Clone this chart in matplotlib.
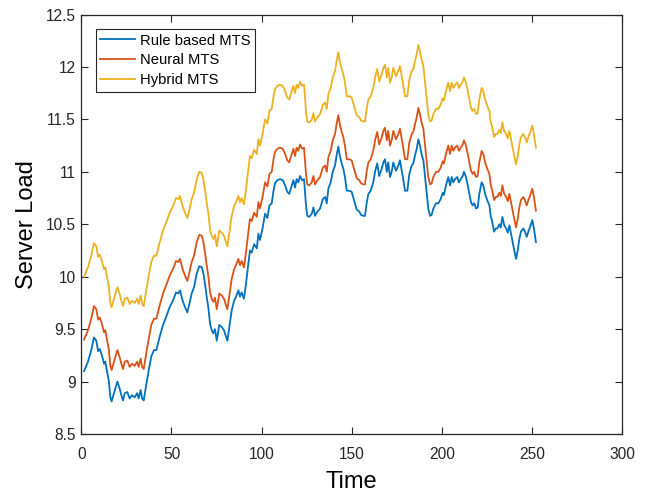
import matplotlib
matplotlib.use("Agg")
import matplotlib.pyplot as plt

plt.rcParams['font.family'] = ['Liberation Sans', 'DejaVu Sans']

time = [
    1.5, 3.7, 5.5, 7.0, 8.3, 9.3, 10.2, 11.1, 12.6, 13.3,
    14.1, 15.2, 16.1, 16.8, 18.1, 20.0, 21.3, 22.2, 23.1, 24.1,
    25.5, 26.8, 28.1, 29.6, 30.9, 31.8, 32.9, 33.7, 34.6, 36.1,
    37.4, 38.8, 40.3, 41.6, 43.5, 45.3, 47.1, 49.0, 51.0, 52.5,
    53.8, 54.7, 56.2, 57.5, 58.8, 59.9, 61.2, 62.5, 64.0, 65.4,
    66.8, 67.7, 68.6, 69.5, 70.4, 71.4, 72.3, 73.2, 74.1, 75.1,
    76.5, 77.9, 79.1, 80.2, 81.0, 82.1, 83.4, 84.7, 85.8, 87.1,
    88.0, 88.9, 90.2, 91.3, 92.6, 93.5, 94.5, 95.8, 97.3, 98.2,
    99.1, 100.6, 101.9, 103.2, 104.3, 105.6, 106.5, 107.4, 108.7, 110.2,
    111.7, 113.0, 114.2, 115.3, 116.7, 117.6, 118.5, 119.4, 120.3, 121.3,
    122.4, 123.5, 124.6, 125.3, 126.4, 127.8, 128.7, 129.6, 130.9, 132.4,
    133.9, 135.2, 136.1, 137.0, 138.3, 139.4, 140.7, 141.6, 142.5, 143.5,
    144.4, 145.3, 146.2, 147.2, 148.6, 149.9, 151.2, 152.7, 154.2, 155.1,
    156.4, 157.3, 158.3, 159.2, 160.5, 161.9, 163.0, 164.1, 165.2, 166.6,
    167.5, 168.4, 169.4, 170.2, 171.2, 172.1, 173.0, 174.5, 175.8, 176.7,
    177.7, 178.6, 179.5, 180.8, 181.9, 183.2, 184.1, 185.1, 186.0, 186.9,
    187.8, 188.8, 189.7, 190.6, 191.5, 192.4, 193.4, 194.3, 195.2, 196.7,
    198.0, 199.3, 200.4, 201.1, 202.2, 203.5, 204.5, 205.4, 206.3, 207.2,
    208.5, 209.4, 210.4, 211.5, 212.2, 213.3, 214.3, 215.2, 216.1, 217.0,
    217.9, 218.9, 219.8, 220.7, 222.0, 222.9, 223.9, 225.1, 226.3, 227.0,
    227.9, 228.9, 229.8, 230.7, 231.8, 232.6, 233.5, 234.5, 235.6, 236.5,
    237.4, 238.3, 239.2, 240.1, 241.1, 242.0, 242.9, 243.8, 245.1, 246.0,
    247.0, 247.9, 248.8, 250.1, 251.0, 252.1,
]

rule_based = [
    9.10, 9.19, 9.30, 9.42, 9.39, 9.29, 9.31, 9.27, 9.17, 9.19,
    9.11, 9.01, 8.85, 8.81, 8.89, 9.00, 8.93, 8.87, 8.82, 8.89,
    8.90, 8.84, 8.87, 8.85, 8.89, 8.84, 8.92, 8.84, 8.82, 8.98,
    9.11, 9.24, 9.30, 9.30, 9.43, 9.54, 9.62, 9.71, 9.78, 9.85,
    9.84, 9.87, 9.77, 9.71, 9.66, 9.74, 9.84, 9.90, 10.03, 10.10,
    10.09, 10.03, 9.93, 9.81, 9.71, 9.55, 9.49, 9.46, 9.50, 9.39,
    9.54, 9.52, 9.49, 9.43, 9.39, 9.52, 9.68, 9.77, 9.81, 9.87,
    9.81, 9.85, 9.79, 9.93, 10.12, 10.25, 10.23, 10.31, 10.27, 10.41,
    10.35, 10.47, 10.60, 10.56, 10.68, 10.70, 10.81, 10.89, 10.92, 10.93,
    10.92, 10.87, 10.81, 10.79, 10.87, 10.92, 10.85, 10.93, 10.90, 10.96,
    10.92, 10.93, 10.68, 10.58, 10.57, 10.60, 10.66, 10.58, 10.62, 10.65,
    10.74, 10.76, 10.70, 10.84, 10.90, 11.00, 11.06, 11.16, 11.24, 11.14,
    11.08, 11.03, 10.95, 10.82, 10.82, 10.81, 10.73, 10.64, 10.62, 10.59,
    10.58, 10.58, 10.71, 10.79, 10.82, 10.90, 11.01, 11.08, 10.96, 11.03,
    11.09, 11.12, 11.00, 11.09, 10.95, 11.00, 11.09, 11.01, 11.06, 11.11,
    11.01, 10.92, 10.82, 10.82, 10.98, 11.06, 11.08, 11.16, 11.22, 11.31,
    11.25, 11.16, 11.11, 10.96, 10.81, 10.65, 10.58, 10.59, 10.65, 10.70,
    10.70, 10.74, 10.80, 10.78, 10.87, 10.95, 10.87, 10.95, 10.90, 10.93,
    10.95, 10.90, 10.93, 10.96, 11.00, 10.95, 10.87, 10.79, 10.71, 10.68,
    10.70, 10.65, 10.66, 10.79, 10.90, 10.87, 10.79, 10.73, 10.68, 10.58,
    10.52, 10.43, 10.46, 10.46, 10.50, 10.47, 10.57, 10.49, 10.46, 10.42,
    10.49, 10.41, 10.33, 10.25, 10.17, 10.25, 10.36, 10.43, 10.46, 10.43,
    10.38, 10.43, 10.47, 10.54, 10.46, 10.33,
]

neural = [
    9.40, 9.49, 9.60, 9.72, 9.69, 9.59, 9.61, 9.57, 9.47, 9.49,
    9.41, 9.31, 9.15, 9.11, 9.19, 9.30, 9.23, 9.17, 9.12, 9.19,
    9.20, 9.14, 9.17, 9.15, 9.19, 9.14, 9.22, 9.14, 9.12, 9.28,
    9.41, 9.54, 9.60, 9.60, 9.73, 9.84, 9.92, 10.01, 10.08, 10.15,
    10.14, 10.17, 10.07, 10.01, 9.96, 10.04, 10.14, 10.20, 10.33, 10.40,
    10.39, 10.33, 10.23, 10.11, 10.01, 9.85, 9.79, 9.76, 9.80, 9.69,
    9.84, 9.82, 9.79, 9.73, 9.69, 9.82, 9.98, 10.07, 10.11, 10.17,
    10.11, 10.15, 10.09, 10.23, 10.42, 10.55, 10.53, 10.61, 10.57, 10.71,
    10.65, 10.77, 10.90, 10.86, 10.98, 11.00, 11.11, 11.19, 11.22, 11.23,
    11.22, 11.17, 11.11, 11.09, 11.17, 11.22, 11.15, 11.23, 11.20, 11.26,
    11.22, 11.23, 10.98, 10.88, 10.87, 10.90, 10.96, 10.88, 10.92, 10.95,
    11.04, 11.06, 11.00, 11.14, 11.20, 11.30, 11.36, 11.46, 11.54, 11.44,
    11.38, 11.33, 11.25, 11.12, 11.12, 11.11, 11.03, 10.94, 10.92, 10.89,
    10.88, 10.88, 11.01, 11.09, 11.12, 11.20, 11.31, 11.38, 11.26, 11.33,
    11.39, 11.42, 11.30, 11.39, 11.25, 11.30, 11.39, 11.31, 11.36, 11.41,
    11.31, 11.22, 11.12, 11.12, 11.28, 11.36, 11.38, 11.46, 11.52, 11.61,
    11.55, 11.46, 11.41, 11.26, 11.11, 10.95, 10.88, 10.89, 10.95, 11.00,
    11.00, 11.04, 11.10, 11.08, 11.17, 11.25, 11.17, 11.25, 11.20, 11.23,
    11.25, 11.20, 11.23, 11.26, 11.30, 11.25, 11.17, 11.09, 11.01, 10.98,
    11.00, 10.95, 10.96, 11.09, 11.20, 11.17, 11.09, 11.03, 10.98, 10.88,
    10.82, 10.73, 10.76, 10.76, 10.80, 10.77, 10.87, 10.79, 10.76, 10.72,
    10.79, 10.71, 10.63, 10.55, 10.47, 10.55, 10.66, 10.73, 10.76, 10.73,
    10.68, 10.73, 10.77, 10.84, 10.76, 10.63,
]

hybrid = [
    10.00, 10.09, 10.20, 10.32, 10.29, 10.19, 10.21, 10.17, 10.07, 10.09,
    10.01, 9.91, 9.75, 9.71, 9.79, 9.90, 9.83, 9.77, 9.72, 9.79,
    9.80, 9.74, 9.77, 9.75, 9.79, 9.74, 9.82, 9.74, 9.72, 9.88,
    10.01, 10.14, 10.20, 10.20, 10.33, 10.44, 10.52, 10.61, 10.68, 10.75,
    10.74, 10.77, 10.67, 10.61, 10.56, 10.64, 10.74, 10.80, 10.93, 11.00,
    10.99, 10.93, 10.83, 10.71, 10.61, 10.45, 10.39, 10.36, 10.40, 10.29,
    10.44, 10.42, 10.39, 10.33, 10.29, 10.42, 10.58, 10.67, 10.71, 10.77,
    10.71, 10.75, 10.69, 10.83, 11.02, 11.15, 11.13, 11.21, 11.17, 11.31,
    11.25, 11.37, 11.50, 11.46, 11.58, 11.60, 11.71, 11.79, 11.82, 11.83,
    11.82, 11.77, 11.71, 11.69, 11.77, 11.82, 11.75, 11.83, 11.80, 11.86,
    11.82, 11.83, 11.58, 11.48, 11.47, 11.50, 11.56, 11.48, 11.52, 11.55,
    11.64, 11.66, 11.60, 11.74, 11.80, 11.90, 11.96, 12.06, 12.14, 12.04,
    11.98, 11.93, 11.85, 11.72, 11.72, 11.71, 11.63, 11.54, 11.52, 11.49,
    11.48, 11.48, 11.61, 11.69, 11.72, 11.80, 11.91, 11.98, 11.86, 11.93,
    11.99, 12.02, 11.90, 11.99, 11.85, 11.90, 11.99, 11.91, 11.96, 12.01,
    11.91, 11.82, 11.72, 11.72, 11.88, 11.96, 11.98, 12.06, 12.12, 12.21,
    12.15, 12.06, 12.01, 11.86, 11.71, 11.55, 11.48, 11.49, 11.55, 11.60,
    11.60, 11.64, 11.70, 11.68, 11.77, 11.85, 11.77, 11.85, 11.80, 11.83,
    11.85, 11.80, 11.83, 11.86, 11.90, 11.85, 11.77, 11.69, 11.61, 11.58,
    11.60, 11.55, 11.56, 11.69, 11.80, 11.77, 11.69, 11.63, 11.58, 11.48,
    11.42, 11.33, 11.36, 11.36, 11.40, 11.37, 11.47, 11.39, 11.36, 11.32,
    11.39, 11.31, 11.23, 11.15, 11.07, 11.15, 11.26, 11.33, 11.36, 11.33,
    11.28, 11.33, 11.37, 11.44, 11.36, 11.23,
]

series_labels = ['Rule based MTS', 'Neural MTS', 'Hybrid MTS']
series_colors = ['#0072BD', '#D95319', '#EDB120']
x_ticks = [0, 50, 100, 150, 200, 250, 300]
y_ticks = [8.5, 9, 9.5, 10, 10.5, 11, 11.5, 12, 12.5]
y_tick_labels = ['8.5', '9', '9.5', '10', '10.5', '11', '11.5', '12', '12.5']

fig = plt.figure(figsize=(6.46, 4.95), dpi=100)
ax = fig.add_axes([0.1259, 0.1232, 0.8374, 0.8475])

for vals, lab, col in zip([rule_based, neural, hybrid], series_labels, series_colors):
    ax.plot(time, vals, color=col, linewidth=1.3, label=lab)

ax.set_xlim(0, 300)
ax.set_ylim(8.5, 12.5)
ax.set_xticks(x_ticks)
ax.set_xticklabels([str(t) for t in x_ticks])
ax.set_yticks(y_ticks)
ax.set_yticklabels(y_tick_labels)

edge = '#262626'
for sp in ax.spines.values():
    sp.set_color(edge)
    sp.set_linewidth(0.9)
ax.tick_params(direction='in', length=5, width=0.8, color=edge, labelcolor=edge,
               labelsize=11.2, top=True, right=True)
ax.tick_params(axis='x', pad=9)
ax.tick_params(axis='y', pad=4)

ax.set_xlabel('Time', fontsize=17, color='black', labelpad=7)
ax.set_ylabel('Server Load', fontsize=17, color='black', labelpad=5.5)

leg = ax.legend(loc='upper left', bbox_to_anchor=(0.027, 0.965), borderaxespad=0,
                fontsize=10.6, handlelength=2.35, handletextpad=0.35,
                labelspacing=0.4, borderpad=0.3, fancybox=False, framealpha=1,
                edgecolor=edge)
leg.get_frame().set_linewidth(0.8)

fig.savefig('out.png', dpi=100)
